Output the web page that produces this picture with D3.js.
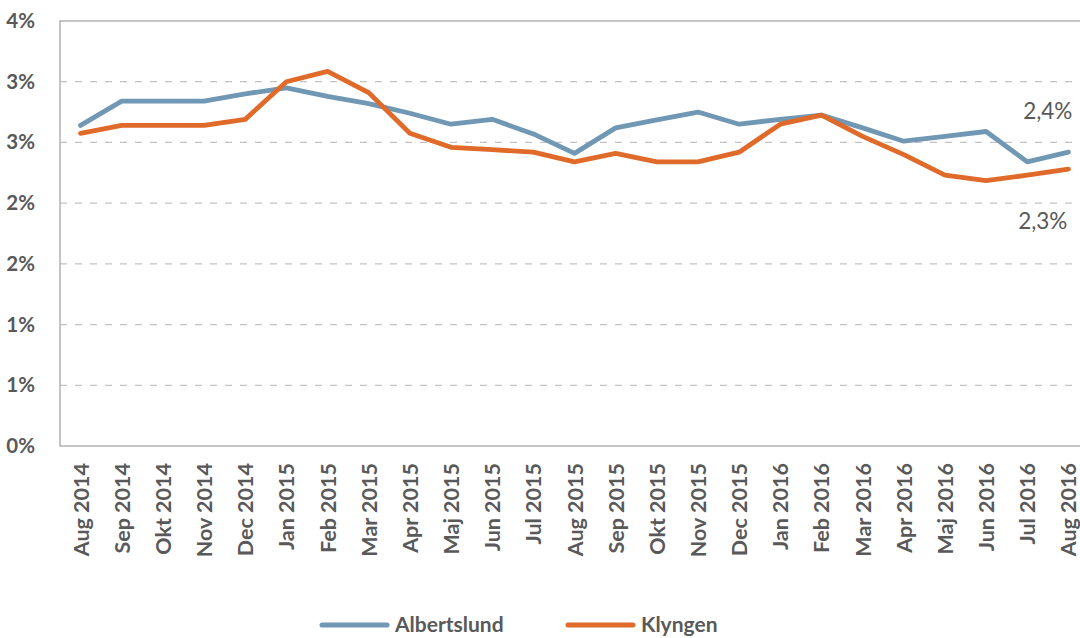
<!DOCTYPE html>
<html>
<head>
<meta charset="utf-8">
<script src="https://cdn.jsdelivr.net/npm/d3@7"></script>
<style>
  body { margin: 0; background: #fff; }
  text { font-family: Lato, "Open Sans", sans-serif; fill: #595959; }
</style>
</head>
<body>
<div id="chart"></div>
<script>
// months on the x axis
var months = ["Aug 2014","Sep 2014","Okt 2014","Nov 2014","Dec 2014","Jan 2015","Feb 2015","Mar 2015",
  "Apr 2015","Maj 2015","Jun 2015","Jul 2015","Aug 2015","Sep 2015","Okt 2015","Nov 2015","Dec 2015",
  "Jan 2016","Feb 2016","Mar 2016","Apr 2016","Maj 2016","Jun 2016","Jul 2016","Aug 2016"];

// values in percent
var albertslund = [2.64,2.84,2.84,2.84,2.90,2.95,2.88,2.82,2.74,2.65,2.69,2.57,2.41,2.62,2.685,2.75,2.65,
  2.69,2.725,2.62,2.51,2.55,2.59,2.34,2.42];
var klyngen = [2.575,2.64,2.64,2.64,2.69,3.0,3.085,2.91,2.575,2.46,2.44,2.42,2.34,2.41,2.34,2.34,2.42,
  2.65,2.725,2.55,2.40,2.23,2.185,2.23,2.28];

var seriesNames = ["Albertslund","Klyngen"];
var seriesColors = ["#7097b4","#e06a29"];
var endLabels = ["2,4%","2,3%"];

// gridlines every half percent, labels rounded like the original (0.5 -> 1%)
var yTicks = [0,0.5,1,1.5,2,2.5,3,3.5];
var yTickLabels = ["0%","1%","1%","2%","2%","3%","3%","4%"];

var width = 1080, height = 638;
var margin = {top: 21, left: 60, right: -9, bottom: 192};

var svg = d3.select("#chart").append("svg")
  .attr("width", width)
  .attr("height", height);

var x = d3.scalePoint()
  .domain(months)
  .range([margin.left, width - margin.right])
  .padding(0.5);

var y = d3.scaleLinear()
  .domain([0, 3.5])
  .range([height - margin.bottom, margin.top]);

// gridlines (dashed), top one solid as frame
svg.append("g").selectAll("line")
  .data(yTicks.filter(function(d){ return d > 0 && d < 3.5; }))
  .enter().append("line")
  .attr("x1", margin.left)
  .attr("x2", width - margin.right)
  .attr("y1", function(d){ return y(d); })
  .attr("y2", function(d){ return y(d); })
  .style("stroke", "#c3c3c3")
  .style("stroke-width", 1.2)
  .style("stroke-dasharray", "7,8");

// plot frame
svg.append("rect")
  .attr("x", margin.left)
  .attr("y", y(3.5))
  .attr("width", width - margin.right - margin.left)
  .attr("height", y(0) - y(3.5))
  .style("fill", "none")
  .style("stroke", "#a6a6a6")
  .style("stroke-width", 1.3);

// y axis
var yAxis = svg.append("g")
  .attr("transform", "translate(" + (margin.left - 22) + ",0)")
  .call(d3.axisLeft(y).tickValues(yTicks).tickSize(0)
    .tickFormat(function(d, i){ return yTickLabels[i]; }));
yAxis.select(".domain").remove();
yAxis.selectAll("text")
  .style("font-size", "20.5px")
  .style("font-weight", "bold")
  .style("fill", "#595959");

// x axis, rotated labels
var xAxis = svg.append("g")
  .attr("transform", "translate(0," + (y(0) + 17) + ")")
  .call(d3.axisBottom(x).tickSize(0));
xAxis.select(".domain").remove();
xAxis.selectAll("text")
  .attr("transform", "rotate(-90)")
  .attr("x", 0)
  .attr("y", 0)
  .attr("dy", "0.35em")
  .attr("dx", "0")
  .style("text-anchor", "end")
  .style("font-size", "21.5px")
  .style("font-weight", "bold")
  .style("fill", "#595959");

// lines
var line = d3.line()
  .x(function(d, i){ return x(months[i]); })
  .y(function(d){ return y(d); });

[albertslund, klyngen].forEach(function(vals, k) {
  svg.append("path")
    .datum(vals)
    .attr("d", line)
    .style("fill", "none")
    .style("stroke", seriesColors[k])
    .style("stroke-width", 4.8)
    .style("stroke-linejoin", "round")
    .style("stroke-linecap", "round");
});

// end labels
var last = months[months.length - 1];
svg.append("text")
  .attr("x", x(last) + 4)
  .attr("y", y(albertslund[albertslund.length - 1]) - 33)
  .attr("text-anchor", "end")
  .style("font-size", "22.5px")
  .text(endLabels[0]);
svg.append("text")
  .attr("x", x(last) - 1)
  .attr("y", y(klyngen[klyngen.length - 1]) + 60)
  .attr("text-anchor", "end")
  .style("font-size", "22.5px")
  .text(endLabels[1]);

// legend
var legendX = [322, 568];
var legend = svg.append("g").selectAll("g")
  .data(seriesNames)
  .enter().append("g")
  .attr("transform", function(d, i){ return "translate(" + legendX[i] + ",625)"; });
legend.append("line")
  .attr("x1", 0).attr("x2", 65)
  .attr("y1", 0).attr("y2", 0)
  .style("stroke", function(d, i){ return seriesColors[i]; })
  .style("stroke-width", 5)
  .style("stroke-linecap", "round");
legend.append("text")
  .attr("x", 73)
  .attr("dy", "0.35em")
  .style("font-size", "21px")
  .style("font-weight", "bold")
  .text(function(d){ return d; });
</script>
</body>
</html>
